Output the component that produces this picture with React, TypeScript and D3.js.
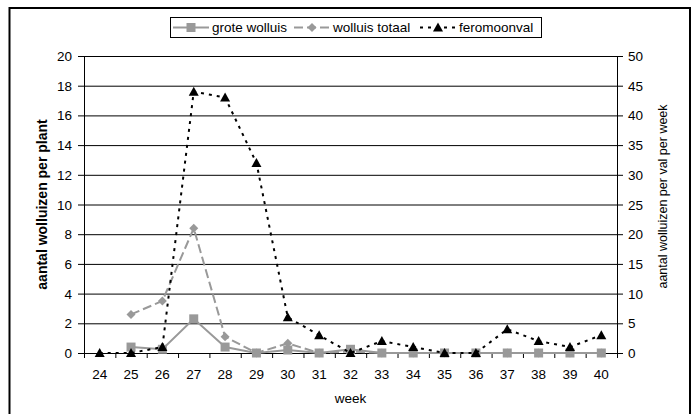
import React from 'react';
import * as d3 from 'd3';

// weeks on the x axis
const weeks = ['24', '25', '26', '27', '28', '29', '30', '31', '32', '33', '34', '35', '36', '37', '38', '39', '40'];
// left axis: aantal wolluizen per plant
const groteWolluis: (number | null)[] = [null, 0.4, 0.25, 2.3, 0.4, 0, 0.2, 0, 0.25, 0, 0, 0, 0, 0, 0, 0, 0];
const wolluisTotaal: (number | null)[] = [null, 2.6, 3.5, 8.4, 1.1, 0, 0.65, 0, 0.1, 0, 0, 0, 0, 0, 0, 0, 0];
// right axis: aantal wolluizen per val per week
const feromoonval: (number | null)[] = [0, 0, 1, 44, 43, 32, 6, 3, 0, 2, 1, 0, 0, 4, 2, 1, 3];

const leftTicks = [0, 2, 4, 6, 8, 10, 12, 14, 16, 18, 20];
const rightTicks = [0, 5, 10, 15, 20, 25, 30, 35, 40, 45, 50];

const W = 696;
const H = 414;
const plot = { left: 84, right: 617, top: 56, bottom: 353 };
const font = '"Liberation Sans", Arial, sans-serif';
const grey = '#999999';

const App: React.FC = () => {
  const x = d3.scaleBand<string>().domain(weeks).range([plot.left, plot.right]);
  const cx = (w: string) => (x(w) as number) + x.bandwidth() / 2;
  const yL = d3.scaleLinear().domain([0, 20]).range([plot.bottom, plot.top]);
  const yR = d3.scaleLinear().domain([0, 50]).range([plot.bottom, plot.top]);

  const lineL = d3.line<number | null>()
    .defined((d) => d !== null)
    .x((_, i) => cx(weeks[i]))
    .y((d) => yL(d as number));
  const lineR = d3.line<number | null>()
    .defined((d) => d !== null)
    .x((_, i) => cx(weeks[i]))
    .y((d) => yR(d as number));

  const square = (px: number, py: number, key: string | number) => (
    <rect key={key} x={px - 4.5} y={py - 4.5} width={9} height={9} fill={grey} />
  );
  const diamond = (px: number, py: number, key: string | number) => (
    <path key={key} d={`M${px},${py - 4.5}L${px + 4.5},${py}L${px},${py + 4.5}L${px - 4.5},${py}Z`} fill={grey} />
  );
  const triangle = (px: number, py: number, key: string | number) => (
    <path key={key} d={`M${px},${py - 5}L${px + 5},${py + 4}L${px - 5},${py + 4}Z`} fill="#000" />
  );

  const boundaries = weeks.map((w) => x(w) as number).concat([plot.right]);

  // legend layout
  const lg = { x: 170, y: 17, h: 20, sample: 36 };
  const items = [
    { label: 'grote wolluis', kind: 'square', dash: 'none', color: grey },
    { label: 'wolluis totaal', kind: 'diamond', dash: '9,4', color: grey },
    { label: 'feromoonval', kind: 'triangle', dash: '3,5', color: '#000' },
  ];
  const textW = [80, 85, 79];
  let cursor = lg.x + 3;
  const legendItems = items.map((it, i) => {
    const sx = cursor;
    const tx = sx + lg.sample + 3;
    cursor = tx + textW[i] + 2;
    return { ...it, sx, tx };
  });
  const lgW = cursor - lg.x + 1;
  const ly = lg.y + lg.h / 2;

  return (
    <svg width={W} height={H} style={{ position: 'absolute', left: 0, top: 0 }} fontFamily={font}>
      <rect x={0} y={0} width={W} height={H} fill="#fff" />
      <rect x={9.5} y={8} width={680.5} height={430} fill="none" stroke="#000" strokeWidth={2} />

      {/* gridlines */}
      {leftTicks.slice(1).map((t) => (
        <line key={t} x1={plot.left} x2={plot.right} y1={yL(t) + 0.5} y2={yL(t) + 0.5} stroke="#000" strokeWidth={1} />
      ))}

      {/* axes */}
      <line x1={plot.left + 0.5} x2={plot.left + 0.5} y1={plot.top} y2={plot.bottom} stroke="#000" />
      <line x1={plot.right + 0.5} x2={plot.right + 0.5} y1={plot.top} y2={plot.bottom} stroke="#000" />
      <line x1={plot.left} x2={plot.right} y1={plot.bottom + 0.5} y2={plot.bottom + 0.5} stroke="#000" />

      {leftTicks.map((t) => (
        <g key={'l' + t}>
          <line x1={plot.left - 6} x2={plot.left} y1={yL(t) + 0.5} y2={yL(t) + 0.5} stroke="#000" />
          <text x={72} y={yL(t) + 5} textAnchor="end" fontSize={13.5}>{t}</text>
        </g>
      ))}
      {rightTicks.map((t) => (
        <g key={'r' + t}>
          <line x1={plot.right} x2={plot.right + 6} y1={yR(t) + 0.5} y2={yR(t) + 0.5} stroke="#000" />
          <text x={628} y={yR(t) + 5} textAnchor="start" fontSize={13.5}>{t}</text>
        </g>
      ))}
      {boundaries.map((b, i) => (
        <line key={'b' + i} x1={b + 0.5} x2={b + 0.5} y1={plot.bottom} y2={plot.bottom + 5} stroke="#000" />
      ))}
      {weeks.map((w) => (
        <text key={'w' + w} x={cx(w)} y={379} textAnchor="middle" fontSize={13.5}>{w}</text>
      ))}

      <text x={(plot.left + plot.right) / 2} y={403} textAnchor="middle" fontSize={13.5}>week</text>
      <text transform={`translate(47,${(plot.top + plot.bottom) / 2}) rotate(-90)`} textAnchor="middle" fontSize={14} fontWeight="bold">
        aantal wolluizen per plant
      </text>
      <text transform={`translate(667,${(plot.top + plot.bottom) / 2 - 8}) rotate(-90)`} textAnchor="middle" fontSize={12.5}>
        aantal wolluizen per val per week
      </text>

      {/* series */}
      <path d={lineL(wolluisTotaal) || ''} fill="none" stroke={grey} strokeWidth={2} strokeDasharray="9,4" />
      {wolluisTotaal.map((v, i) => (v === null ? null : diamond(cx(weeks[i]), yL(v), 'd' + i)))}
      <path d={lineL(groteWolluis) || ''} fill="none" stroke={grey} strokeWidth={2} />
      {groteWolluis.map((v, i) => (v === null ? null : square(cx(weeks[i]), yL(v), 's' + i)))}
      <path d={lineR(feromoonval) || ''} fill="none" stroke="#000" strokeWidth={2} strokeDasharray="3,5" />
      {feromoonval.map((v, i) => (v === null ? null : triangle(cx(weeks[i]), yR(v), 't' + i)))}

      {/* legend */}
      <rect x={lg.x + 0.5} y={lg.y + 0.5} width={lgW} height={lg.h} fill="#fff" stroke="#000" />
      {legendItems.map((it, i) => (
        <g key={'lg' + i}>
          <line x1={it.sx} x2={it.sx + lg.sample} y1={ly + 0.5} y2={ly + 0.5} stroke={it.color} strokeWidth={2} strokeDasharray={it.dash} />
          {it.kind === 'square' && square(it.sx + lg.sample / 2, ly + 0.5, 'm')}
          {it.kind === 'diamond' && diamond(it.sx + lg.sample / 2, ly + 0.5, 'm')}
          {it.kind === 'triangle' && triangle(it.sx + lg.sample / 2, ly + 0.5, 'm')}
          <text x={it.tx} y={ly + 5} fontSize={13.5}>{it.label}</text>
        </g>
      ))}
    </svg>
  );
};

export default App;
